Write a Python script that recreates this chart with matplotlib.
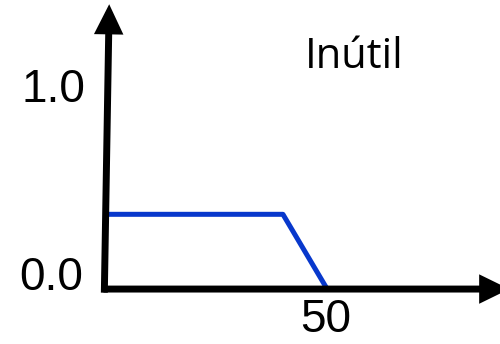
import matplotlib.pyplot as plt

# membership function "Inútil"
X_POINTS = [0, 40, 50]
Y_POINTS = [0.37, 0.37, 0.0]
Y_TICK_LABELS = ["0.0", "1.0"]
X_TICK_LABEL = "50"
TITLE = "Inútil"

fig = plt.figure(figsize=(5.0, 3.44), dpi=100)
ax = fig.add_axes([0, 0, 1, 1])
ax.set_xlim(-24.0, 89.1)
ax.set_ylim(-0.272, 1.431)
ax.axis("off")

arrow = dict(arrowstyle="-|>,head_length=0.45,head_width=0.22", lw=5.0,
             color="black", shrinkA=0, shrinkB=0, mutation_scale=30,
             joinstyle="miter", capstyle="butt")
# x axis, its head runs past the right edge
ax.annotate("", xy=(91.2, 0.0), xytext=(-0.6, 0.0), arrowprops=arrow,
            annotation_clip=False)
# y axis (slightly slanted, as drawn by hand)
ax.annotate("", xy=(0.7, 1.41), xytext=(-0.4, -0.018), arrowprops=arrow,
            annotation_clip=False)

ax.plot(X_POINTS, Y_POINTS, color="#0838cc", lw=3.6, solid_capstyle="butt")

label_font = dict(family="Liberation Sans", fontsize=33, color="black")
ax.text(-12.0, 0.926, Y_TICK_LABELS[1], ha="center", va="baseline", **label_font)
ax.text(-12.4, -0.005, Y_TICK_LABELS[0], ha="center", va="baseline", **label_font)
ax.text(X_POINTS[-1] - 0.4, -0.215, X_TICK_LABEL, ha="center", va="baseline", **label_font)

ax.text(56.2, 1.094, TITLE, ha="center", va="baseline",
        family="Open Sans", fontsize=30, color="black")

fig.savefig("out.png", dpi=100)
